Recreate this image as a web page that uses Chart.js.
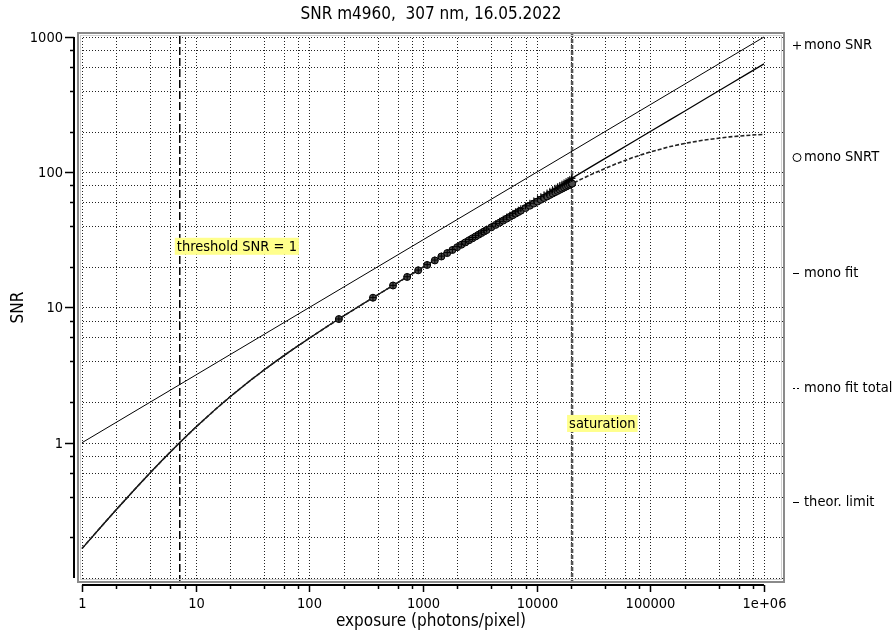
<!DOCTYPE html>
<html>
<head>
<meta charset="utf-8">
<title>SNR m4960</title>
<script src="https://cdn.jsdelivr.net/npm/chart.js@4.4.1/dist/chart.umd.min.js"></script>
<style>
  html, body { margin: 0; padding: 0; background: #fff; }
  #wrap { width: 893px; height: 634px; }
</style>
</head>
<body>
<div id="wrap"><canvas id="snr-chart" width="893" height="634"></canvas></div>
<script>
(function () {
  "use strict";

  // measured points, exposure in photons/pixel
  const exposure = [182, 363, 545, 726, 908, 1089, 1271, 1452, 1634, 1815,
    1997, 2178, 2360, 2541, 2723, 2904, 3086, 3267, 3449, 3630,
    3993, 4356, 4719, 5082, 5445, 5808, 6171, 6534, 6897, 7260,
    7986, 8712, 9438, 10164, 10890, 11616, 12342, 13068, 13794, 14520,
    15246, 15972, 16698, 17424, 18150, 18876, 19602, 20328, 20510];
  const monoSnr = [8.22, 11.83, 14.58, 16.88, 18.91, 20.74, 22.42, 23.99, 25.46, 26.84,
    28.16, 29.42, 30.63, 31.80, 32.92, 34.00, 35.05, 36.07, 37.07, 38.03,
    39.90, 41.68, 43.38, 45.03, 46.61, 48.14, 49.63, 51.07, 52.47, 53.84,
    56.47, 58.99, 61.40, 63.72, 65.96, 68.12, 70.22, 72.26, 74.24, 76.17,
    78.06, 79.90, 81.69, 83.45, 85.17, 86.86, 88.52, 90.14, 90.55];
  const monoSnrt = [8.21, 11.81, 14.54, 16.82, 18.83, 20.63, 22.28, 23.82, 25.25, 26.61,
    27.89, 29.11, 30.28, 31.40, 32.48, 33.52, 34.53, 35.50, 36.45, 37.36,
    39.13, 40.80, 42.40, 43.93, 45.39, 46.81, 48.17, 49.48, 50.76, 51.99,
    54.35, 56.58, 58.70, 60.71, 62.64, 64.49, 66.26, 67.96, 69.60, 71.19,
    72.72, 74.20, 75.63, 77.02, 78.36, 79.67, 80.94, 82.18, 82.49];

  // fit curves
  const fitExposure = [1, 1.5, 2, 3, 4, 5, 7, 10, 15, 20, 30, 40, 50, 70, 100, 150, 200, 300, 500,
    1000, 2000, 5000, 10000, 20500, 30000, 50000, 70000, 100000, 150000, 200000,
    300000, 500000, 700000, 1000000];
  const monoFit = [0.165, 0.2435, 0.3195, 0.4646, 0.6018, 0.7318, 0.9736, 1.300, 1.772, 2.180,
    2.871, 3.453, 3.963, 4.840, 5.932, 7.415, 8.653, 10.71, 13.95,
    19.87, 28.19, 44.66, 63.20, 90.52, 109.5, 141.4, 167.3, 200.0, 244.9, 282.8,
    346.4, 447.2, 529.2, 632.5];
  const monoFitTotal = [0.165, 0.2435, 0.3195, 0.4646, 0.6018, 0.7318, 0.9736, 1.300, 1.772, 2.180,
    2.871, 3.453, 3.963, 4.840, 5.929, 7.410, 8.645, 10.70, 13.92,
    19.77, 27.91, 43.59, 60.26, 82.47, 96.06, 115.5, 128.3, 141.4, 154.9, 163.3,
    173.2, 182.6, 187.1, 190.7];

  const theorExposure = [1, 1000000];
  const theorLimit = [1, 1000];

  const thresholdExposure = 7.25;
  const saturationExposure = 20500;

  const xTickValues = [1, 10, 100, 1000, 10000, 100000, 1000000];
  const xTickLabels = ["1", "10", "100", "1000", "10000", "100000", "1e+06"];
  const yTickValues = [1, 10, 100, 1000];
  const yTickLabels = ["1", "10", "100", "1000"];
  const minorSteps = [2, 4, 6, 8];

  const legendLabels = ["mono SNR", "mono SNRT", "mono fit", "mono fit total", "theor. limit"];

  const X_MIN = 0.904;
  const X_MAX = 1.531e6;
  const Y_MIN = 0.0918;
  const Y_MAX = 1089;

  const FONT = '"DejaVu Sans Condensed", "DejaVu Sans", sans-serif';

  function toPoints(xs, ys) {
    return xs.map((x, i) => ({ x: x, y: ys[i] }));
  }

  function vline(x) {
    return [{ x: x, y: Y_MIN }, { x: x, y: Y_MAX }];
  }

  function pxLine(ctx, x1, y1, x2, y2) {
    ctx.beginPath();
    ctx.moveTo(x1, y1);
    ctx.lineTo(x2, y2);
    ctx.stroke();
  }

  function labelBox(ctx, text, left, cy) {
    ctx.font = "14.5px " + FONT;
    const w = ctx.measureText(text).width;
    ctx.fillStyle = "#ffff8c";
    ctx.fillRect(left, cy - 8, w + 4, 17);
    ctx.fillStyle = "#000";
    ctx.textAlign = "left";
    ctx.textBaseline = "middle";
    ctx.fillText(text, left + 2, cy + 1);
  }

  const decorPlugin = {
    id: "decor",
    beforeDatasetsDraw(chart) {
      const ctx = chart.ctx;
      const xs = chart.scales.x;
      const ys = chart.scales.y;
      const a = chart.chartArea;

      ctx.save();
      ctx.strokeStyle = "#222";
      ctx.lineWidth = 1;
      ctx.setLineDash([1, 2]);
      // vertical grid
      for (let d = 1; d <= 1e6; d *= 10) {
        [1].concat(minorSteps).forEach((m) => {
          const v = d * m;
          if (v < X_MIN || v > X_MAX) return;
          const px = Math.round(xs.getPixelForValue(v)) + 0.5;
          pxLine(ctx, px, a.top, px, a.bottom);
        });
      }
      // horizontal grid
      for (let d = 0.1; d <= 1000.5; d *= 10) {
        [1].concat(minorSteps).forEach((m) => {
          const v = d * m;
          if (v < Y_MIN || v > Y_MAX) return;
          const py = Math.round(ys.getPixelForValue(v)) + 0.5;
          pxLine(ctx, a.left, py, a.right, py);
        });
      }
      ctx.restore();
    },
    afterDatasetsDraw(chart) {
      const ctx = chart.ctx;
      const xs = chart.scales.x;
      const ys = chart.scales.y;
      const a = chart.chartArea;

      ctx.save();

      // annotation boxes
      labelBox(ctx, "threshold SNR = 1", xs.getPixelForValue(thresholdExposure) - 5, ys.getPixelForValue(28.6));
      labelBox(ctx, "saturation", xs.getPixelForValue(saturationExposure) - 5, ys.getPixelForValue(1.4));

      // plot frame
      ctx.setLineDash([]);
      ctx.strokeStyle = "#8a8a8a";
      ctx.lineWidth = 2;
      ctx.strokeRect(a.left + 1, a.top + 1, a.right - a.left - 2, a.bottom - a.top - 2);
      ctx.strokeStyle = "#d0d0d0";
      ctx.lineWidth = 1;
      ctx.strokeRect(a.left + 3.5, a.top + 3.5, a.right - a.left - 7, a.bottom - a.top - 7);

      // y axis
      ctx.strokeStyle = "#000";
      ctx.lineWidth = 2;
      const axX = a.left - 3;
      pxLine(ctx, axX, ys.getPixelForValue(1000), axX, ys.getPixelForValue(0.1));
      ctx.lineWidth = 1.5;
      for (let d = 0.1; d <= 1000.5; d *= 10) {
        minorSteps.forEach((m) => {
          const py = Math.round(ys.getPixelForValue(d * m)) + 0.5;
          pxLine(ctx, axX, py, axX - 4, py);
        });
      }
      ctx.font = "14.5px " + FONT;
      ctx.fillStyle = "#000";
      ctx.textAlign = "right";
      ctx.textBaseline = "middle";
      yTickValues.forEach((v, i) => {
        const py = Math.round(ys.getPixelForValue(v)) + 0.5;
        pxLine(ctx, axX, py, axX - 9, py);
        ctx.fillText(yTickLabels[i], a.left - 14, py + 1);
      });

      // x axis
      ctx.lineWidth = 2;
      const axY = a.bottom + 2;
      pxLine(ctx, xs.getPixelForValue(1), axY, xs.getPixelForValue(1e6), axY);
      ctx.lineWidth = 1.5;
      for (let d = 1; d < 1e6; d *= 10) {
        minorSteps.forEach((m) => {
          const px = Math.round(xs.getPixelForValue(d * m)) + 0.5;
          pxLine(ctx, px, axY, px, axY + 4);
        });
      }
      ctx.textAlign = "center";
      ctx.textBaseline = "middle";
      xTickValues.forEach((v, i) => {
        const px = Math.round(xs.getPixelForValue(v)) + 0.5;
        pxLine(ctx, px, axY, px, axY + 7);
        ctx.fillText(xTickLabels[i], px, axY + 19);
      });

      // titles
      const cx = (a.left + a.right) / 2;
      ctx.font = "17px " + FONT;
      ctx.fillText("SNR m4960,  307 nm, 16.05.2022", cx, 15);
      ctx.fillText("exposure (photons/pixel)", cx, 622);
      ctx.save();
      ctx.translate(19, (a.top + a.bottom) / 2);
      ctx.rotate(-Math.PI / 2);
      ctx.fillText("SNR", 0, 0);
      ctx.restore();

      // legend on the right
      const lx = a.right + 8;
      const legendY = [45, 157, 273, 388, 502];
      ctx.font = "14.5px " + FONT;
      ctx.textAlign = "left";
      ctx.textBaseline = "middle";
      ctx.strokeStyle = "#000";
      ctx.lineWidth = 1;
      legendY.forEach((y, i) => {
        ctx.fillText(legendLabels[i], lx + 11, y);
      });
      pxLine(ctx, lx, 45.5, lx + 8, 45.5);
      pxLine(ctx, lx + 4, 41.5, lx + 4, 49.5);
      ctx.beginPath();
      ctx.arc(lx + 4, 157.5, 4, 0, Math.PI * 2);
      ctx.stroke();
      pxLine(ctx, lx, 273.5, lx + 6, 273.5);
      pxLine(ctx, lx, 388.5, lx + 2, 388.5);
      pxLine(ctx, lx + 4, 388.5, lx + 6, 388.5);
      pxLine(ctx, lx, 502.5, lx + 6, 502.5);

      ctx.restore();
    },
  };

  const datasets = [
    {
      label: legendLabels[0],
      data: toPoints(exposure, monoSnr),
      showLine: false,
      pointStyle: "cross",
      pointRadius: 3.5,
      borderColor: "#000",
      borderWidth: 1,
      order: 0,
    },
    {
      label: legendLabels[1],
      data: toPoints(exposure, monoSnrt),
      showLine: false,
      pointStyle: "circle",
      pointRadius: 3.5,
      borderColor: "#000",
      backgroundColor: "#4a4a4a",
      borderWidth: 1,
      order: 1,
    },
    {
      label: legendLabels[2],
      data: toPoints(fitExposure, monoFit),
      showLine: true,
      pointRadius: 0,
      borderColor: "#000",
      borderWidth: 1.3,
      order: 3,
    },
    {
      label: legendLabels[3],
      data: toPoints(fitExposure, monoFitTotal),
      showLine: true,
      pointRadius: 0,
      borderColor: "#222",
      borderWidth: 1.6,
      borderDash: [4, 2],
      order: 2,
    },
    {
      label: legendLabels[4],
      data: toPoints(theorExposure, theorLimit),
      showLine: true,
      pointRadius: 0,
      borderColor: "#000",
      borderWidth: 1,
      order: 4,
    },
    {
      label: "threshold",
      data: vline(thresholdExposure),
      showLine: true,
      pointRadius: 0,
      borderColor: "#000",
      borderWidth: 1.5,
      borderDash: [8, 3],
      order: 5,
    },
    {
      label: "saturation",
      data: vline(saturationExposure),
      showLine: true,
      pointRadius: 0,
      borderColor: "#555",
      borderWidth: 2.5,
      borderDash: [4, 2],
      order: 5,
    },
  ];

  new Chart(document.getElementById("snr-chart"), {
    type: "scatter",
    data: { datasets: datasets },
    options: {
      responsive: false,
      animation: false,
      events: [],
      layout: { padding: { left: 77, right: 108, top: 32, bottom: 51 } },
      plugins: {
        legend: { display: false },
        tooltip: { enabled: false },
      },
      scales: {
        x: { type: "logarithmic", min: X_MIN, max: X_MAX, display: false },
        y: { type: "logarithmic", min: Y_MIN, max: Y_MAX, display: false },
      },
    },
    plugins: [decorPlugin],
  });
})();
</script>
</body>
</html>
